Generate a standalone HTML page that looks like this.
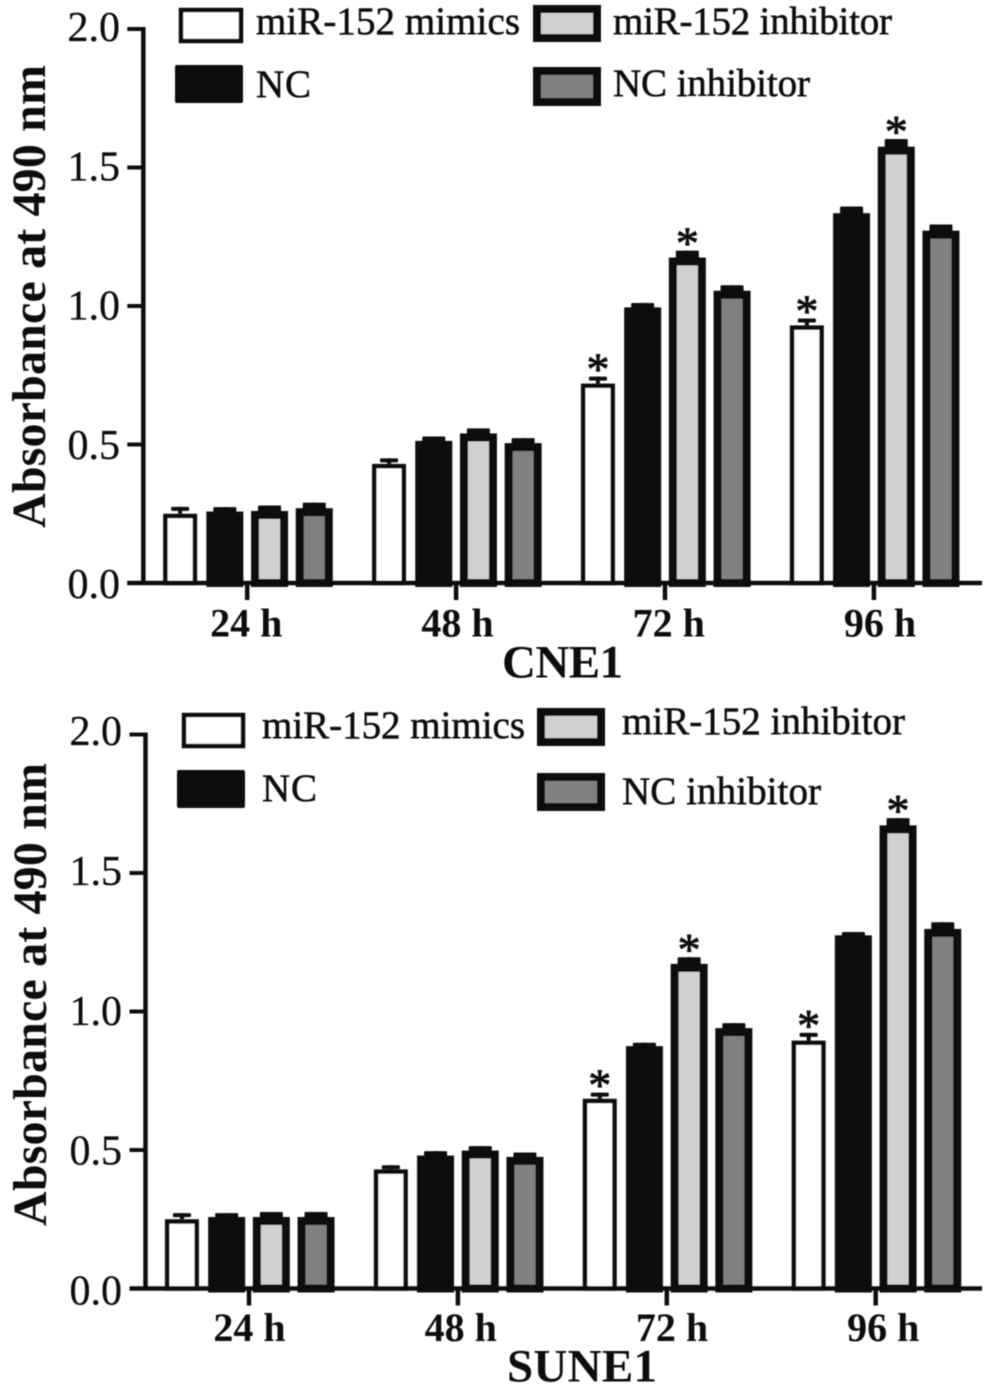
<!DOCTYPE html>
<html lang="en">
<head>
<meta charset="utf-8">
<title>Absorbance at 490 nm: CNE1 and SUNE1</title>
<style>
html,body{margin:0;padding:0;background:#fff;width:1005px;height:1388px;overflow:hidden}
svg{display:block}
text{font-family:"Liberation Serif",serif;fill:#111}
.legend-text{font-size:39px;stroke:#111;stroke-width:.55}
.tick-text{font-size:42px;stroke:#111;stroke-width:.3}
.cat-text{font-size:40px;font-weight:bold}
.y-title{font-size:48px;font-weight:bold}
.panel-title{font-size:47px;font-weight:bold}
.star{font-size:46px;text-anchor:middle;stroke:#111;stroke-width:.9}
</style>
</head>
<body>
<svg id="chart" xmlns="http://www.w3.org/2000/svg" width="1005" height="1388" viewBox="0 0 1005 1388">
  <defs><filter id="soft" x="-2%" y="-2%" width="104%" height="104%"><feGaussianBlur stdDeviation="0.55"/></filter></defs>
  <g filter="url(#soft)">
    <g id="panel-top"></g>
    <g id="panel-bottom"></g>

    <g>
      <g>
        <rect x="181" y="10" width="60" height="31" fill="#fff" stroke="#111" stroke-width="4.5"/>
        <text class="legend-text" x="256" y="34" textLength="264">miR-152 mimics</text>
      </g>
      <g>
        <rect x="175" y="65" width="68" height="38" fill="#0a0a0a" rx="2"/>
        <text class="legend-text" x="256" y="97" textLength="55">NC</text>
      </g>
      <g>
        <rect x="537" y="9" width="60" height="29" fill="#d0d0d0" stroke="#0a0a0a" stroke-width="8"/>
        <text class="legend-text" x="613" y="34" textLength="279">miR-152 inhibitor</text>
      </g>
      <g>
        <rect x="537" y="71" width="60" height="31" fill="#808080" stroke="#0a0a0a" stroke-width="8"/>
        <text class="legend-text" x="613" y="96" textLength="197">NC inhibitor</text>
      </g>
    </g>

    <g>
      <g>
        <rect x="184" y="715" width="59" height="31" fill="#fff" stroke="#111" stroke-width="4.5"/>
        <text class="legend-text" x="262" y="738" textLength="263">miR-152 mimics</text>
      </g>
      <g>
        <rect x="177" y="770" width="68" height="38" fill="#0a0a0a" rx="2"/>
        <text class="legend-text" x="262" y="801" textLength="55">NC</text>
      </g>
      <g>
        <rect x="541" y="712" width="60" height="30" fill="#d0d0d0" stroke="#0a0a0a" stroke-width="8"/>
        <text class="legend-text" x="622" y="734" textLength="283">miR-152 inhibitor</text>
      </g>
      <g>
        <rect x="541" y="777" width="60" height="30" fill="#808080" stroke="#0a0a0a" stroke-width="8"/>
        <text class="legend-text" x="622" y="804" textLength="199">NC inhibitor</text>
      </g>
    </g>
  </g>
</svg>
<script>
const categories = ["24 h", "48 h", "72 h", "96 h"];
const seriesNames = ["miR-152 mimics", "NC", "miR-152 inhibitor", "NC inhibitor"];
const yTickValues = [0, 0.5, 1, 1.5, 2];
const yTickLabels = ["0.0", "0.5", "1.0", "1.5", "2.0"];

const cne1Mimics = [0.25, 0.43, 0.72, 0.93];
const cne1Nc = [0.258, 0.513, 0.995, 1.335];
const cne1Inhibitor = [0.26, 0.54, 1.175, 1.575];
const cne1NcInhibitor = [0.27, 0.505, 1.055, 1.272];
const cne1MimicsErr = [0.025, 0.02, 0.025, 0.025];
const cne1NcErr = [0.016, 0.016, 0.016, 0.024];
const cne1InhibitorErr = [0.02, 0.018, 0.025, 0.028];
const cne1NcInhibitorErr = [0.02, 0.018, 0.02, 0.022];

const sune1Mimics = [0.25, 0.43, 0.685, 0.895];
const sune1Nc = [0.258, 0.48, 0.875, 1.275];
const sune1Inhibitor = [0.258, 0.498, 1.172, 1.672];
const sune1NcInhibitor = [0.258, 0.475, 0.94, 1.298];
const sune1MimicsErr = [0.022, 0.015, 0.022, 0.028];
const sune1NcErr = [0.014, 0.016, 0.012, 0.012];
const sune1InhibitorErr = [0.018, 0.016, 0.024, 0.026];
const sune1NcInhibitorErr = [0.018, 0.016, 0.018, 0.024];

const significantSeries = ["miR-152 mimics", "miR-152 inhibitor"];
const significantCategories = ["72 h", "96 h"];

const SVGNS = "http://www.w3.org/2000/svg";
const fills = ["#ffffff", "#0a0a0a", "#d0d0d0", "#808080"];
const strokes = [4.5, 8, 8, 8];
const outerWidths = [34, 37, 37, 37];
const capWidths = [18, 23, 23, 23];

function make(parent, tag, attrs, text) {
  const el = document.createElementNS(SVGNS, tag);
  for (const k in attrs) el.setAttribute(k, attrs[k]);
  if (text !== undefined) el.textContent = text;
  parent.appendChild(el);
  return el;
}

function drawPanel(p) {
  const root = document.getElementById(p.id);
  const yScale = v => p.y0 - v * 277;
  const xTick = i => p.tick0 + i * 208.9;
  const xBar = (i, j) => xTick(i) + (j - 1.5) * 44.7;
  const yLabelBase = v => p.labelBase - v * p.labelK;
  const xLabel = i => p.catLabel0 + i * 211.25;

  p.values.forEach((vals, j) => {
    const sw = strokes[j], w = outerWidths[j];
    vals.forEach((v, i) => {
      const cx = xBar(i, j);
      const top = yScale(v), capTop = yScale(v + p.errors[j][i]);
      const stem = make(root, "line", {x1: cx, x2: cx, y1: capTop, y2: top, stroke: "#0a0a0a", "stroke-width": Math.min(sw, 4)});
      
      
      const cap = make(root, "rect", {x: cx - capWidths[j] / 2, y: capTop, width: capWidths[j], height: j === 0 ? 4 : (top - capTop + 2), rx: 1, fill: "#0a0a0a"});
      
      
      const bar = make(root, "rect", {x: cx - w / 2 + sw / 2, y: top + sw / 2, width: w - sw, height: Math.max(0, p.y0 - top - sw / 2), fill: fills[j], stroke: "#0a0a0a", "stroke-width": sw});
      
      
      if (significantSeries.includes(seriesNames[j]) && significantCategories.includes(categories[i])) {
        const star = make(root, "text", {class: "star", x: cx, y: capTop - 14 + 22}, "*");
        
        
      }
    });
  });

  const yAxis = make(root, "line", {x1: p.axisX, x2: p.axisX, y1: yScale(2) - 2, y2: p.y0 + 2, stroke: "#111", "stroke-width": 4.5});
  
  
  const xAxis = make(root, "line", {x1: p.axisX - 16, x2: 982, y1: p.y0, y2: p.y0, stroke: "#111", "stroke-width": 4.5});
  
  

  yTickValues.forEach((v, k) => {
    const t = make(root, "line", {x1: p.axisX - 16, x2: p.axisX, y1: yScale(v), y2: yScale(v), stroke: "#111", "stroke-width": 4});
    
    
    const l = make(root, "text", {class: "tick-text", x: p.labelRight, y: yLabelBase(v), "text-anchor": "end"}, yTickLabels[k]);
    
    
  });

  categories.forEach((c, i) => {
    const t = make(root, "line", {x1: xTick(i), x2: xTick(i), y1: p.y0, y2: p.y0 + 17, stroke: "#111", "stroke-width": 4.5});
    
    
    const l = make(root, "text", {class: "cat-text", x: xLabel(i), y: p.catBase, "text-anchor": "middle"}, c);
    
    
  });

  const yt = make(root, "text", {class: "y-title", x: 0, y: 0, "text-anchor": "middle", textLength: 463, transform: "translate(" + p.titleX + " " + p.titleY + ") rotate(-90)"}, "Absorbance at 490 nm");
  
  

  const pt = make(root, "text", {class: "panel-title", x: p.nameX, y: p.nameY, textLength: p.nameW}, p.name);
  
  
}

drawPanel({
  id: "panel-top", name: "CNE1", y0: 583, axisX: 143.3, tick0: 247.2,
  labelBase: 598, labelK: 278.5, labelRight: 120, catLabel0: 246.3, catBase: 636.5,
  titleX: 45, titleY: 296.5, nameX: 502, nameY: 677.5, nameW: 121,
  values: [cne1Mimics, cne1Nc, cne1Inhibitor, cne1NcInhibitor],
  errors: [cne1MimicsErr, cne1NcErr, cne1InhibitorErr, cne1NcInhibitorErr]
});
drawPanel({
  id: "panel-bottom", name: "SUNE1", y0: 1288.5, axisX: 145.5, tick0: 249,
  labelBase: 1304.5, labelK: 279.75, labelRight: 122, catLabel0: 249.5, catBase: 1341,
  titleX: 46, titleY: 994.5, nameX: 507, nameY: 1381.5, nameW: 150,
  values: [sune1Mimics, sune1Nc, sune1Inhibitor, sune1NcInhibitor],
  errors: [sune1MimicsErr, sune1NcErr, sune1InhibitorErr, sune1NcInhibitorErr]
});
</script>
</body>
</html>
